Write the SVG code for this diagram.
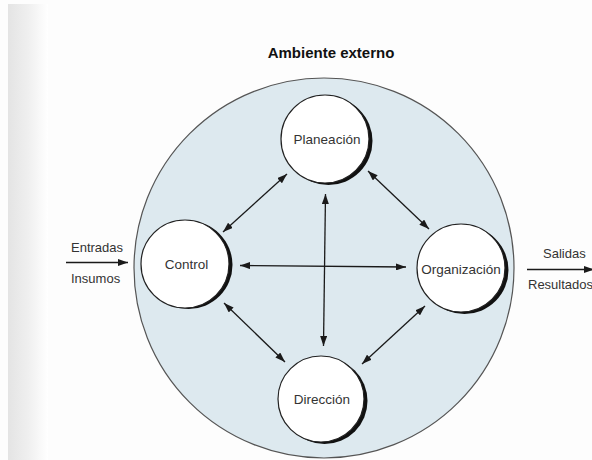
<svg xmlns="http://www.w3.org/2000/svg" width="592" height="460" viewBox="0 0 592 460">
  <defs>
    <linearGradient id="edge" x1="0" y1="0" x2="1" y2="0">
      <stop offset="0" stop-color="#e4e4e4"/>
      <stop offset="0.5" stop-color="#efefef"/>
      <stop offset="1" stop-color="#ffffff"/>
    </linearGradient>
    <marker id="ah" viewBox="0 0 10 7" refX="10" refY="3.5" markerWidth="10" markerHeight="7" markerUnits="userSpaceOnUse" orient="auto-start-reverse">
      <path d="M0,0 L10,3.5 L0,7 z" fill="#1a1a1a"/>
    </marker>
    <style>
      .lbl { font-family: "Liberation Sans", Arial, sans-serif; font-size: 13px; fill: #333; }
      .node-t { font-family: "Liberation Sans", Arial, sans-serif; font-size: 13.5px; fill: #333; text-anchor: middle; }
      .title { font-family: "Liberation Sans", Arial, sans-serif; font-size: 15px; font-weight: bold; fill: #111; text-anchor: middle; }
      .shadow { fill: #111; }
      .face { fill: #ffffff; stroke: #222; stroke-width: 1.2; }
      .conn { stroke: #1a1a1a; stroke-width: 1.3; fill: none; }
    </style>
  </defs>

  <rect width="592" height="460" fill="#fdfdfd"/>
  <rect x="8" y="4" width="40" height="456" fill="url(#edge)"/>

  <text class="title" x="331" y="58">Ambiente externo</text>

  <g id="ambiente">
    <circle cx="324" cy="268" r="190" fill="#dde9ef" stroke="#555" stroke-width="1.2"/>
  </g>

  <g id="connectors">
    <line class="conn" x1="287" y1="174" x2="223" y2="232" marker-start="url(#ah)" marker-end="url(#ah)"/>
    <line class="conn" x1="368" y1="171" x2="429" y2="229" marker-start="url(#ah)" marker-end="url(#ah)"/>
    <line class="conn" x1="224" y1="303" x2="285" y2="362" marker-start="url(#ah)" marker-end="url(#ah)"/>
    <line class="conn" x1="425" y1="306" x2="362" y2="364" marker-start="url(#ah)" marker-end="url(#ah)"/>
    <line class="conn" x1="325.5" y1="194" x2="323.5" y2="346" marker-start="url(#ah)" marker-end="url(#ah)"/>
    <line class="conn" x1="240" y1="265.5" x2="406" y2="267" marker-start="url(#ah)" marker-end="url(#ah)"/>
    <line class="conn" x1="66" y1="262.5" x2="128" y2="262.5" marker-end="url(#ah)"/>
    <line class="conn" x1="527" y1="269.5" x2="594" y2="269.5" marker-end="url(#ah)"/>
  </g>

  <g id="planeacion">
    <circle class="shadow" cx="328.5" cy="141" r="44"/>
    <circle class="face" cx="325" cy="139" r="44"/>
    <text class="node-t" x="327" y="144">Planeación</text>
  </g>

  <g id="control">
    <circle class="shadow" cx="188.5" cy="265" r="44"/>
    <circle class="face" cx="185" cy="264" r="44"/>
    <text class="node-t" x="186.5" y="269">Control</text>
  </g>

  <g id="organizacion">
    <circle class="shadow" cx="464.5" cy="270" r="44"/>
    <circle class="face" cx="461" cy="268" r="44"/>
    <text class="node-t" x="461" y="274">Organización</text>
  </g>

  <g id="direccion">
    <circle class="shadow" cx="324.5" cy="401" r="43"/>
    <circle class="face" cx="321" cy="399" r="43"/>
    <text class="node-t" x="322" y="404">Dirección</text>
  </g>

  <g id="entradas">
    <text class="lbl" x="71" y="252">Entradas</text>
    <text class="lbl" x="71" y="283">Insumos</text>
  </g>

  <g id="salidas">
    <text class="lbl" x="543" y="258">Salidas</text>
    <text class="lbl" x="528" y="289" font-size="12.5">Resultados</text>
  </g>
</svg>
